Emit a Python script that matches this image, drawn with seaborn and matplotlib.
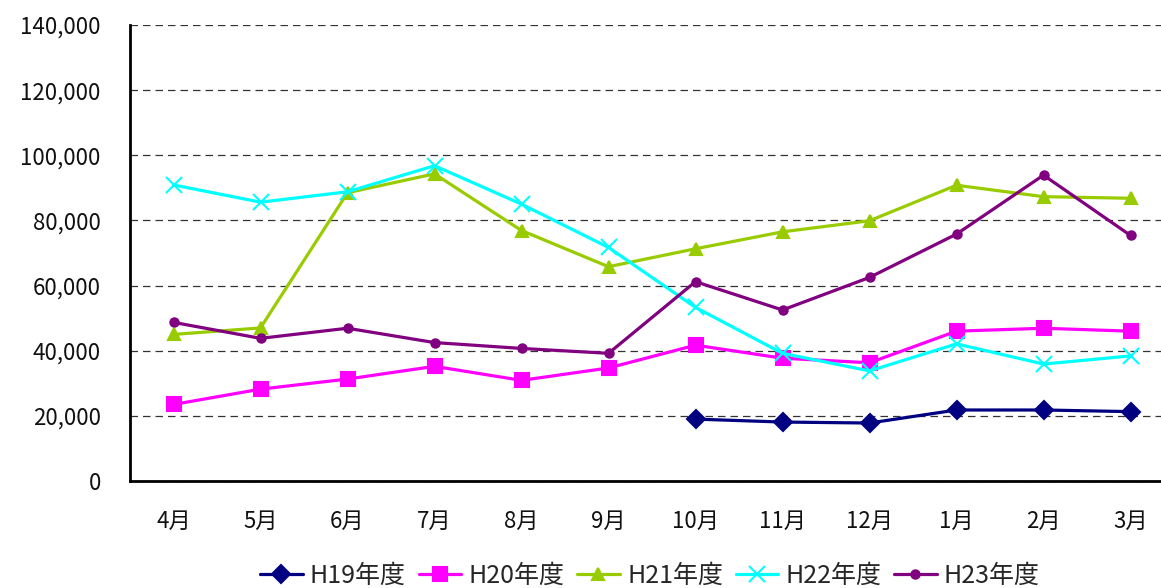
import matplotlib
matplotlib.use("Agg")
import matplotlib.pyplot as plt
import numpy as np
import pandas as pd
import seaborn as sns

months = ["4月", "5月", "6月", "7月", "8月", "9月",
          "10月", "11月", "12月", "1月", "2月", "3月"]

h19 = [np.nan, np.nan, np.nan, np.nan, np.nan, np.nan,
       19000, 18100, 17800, 21800, 21800, 21300]
h20 = [23500, 28200, 31300, 35200, 30900, 34700,
       41700, 37700, 36300, 46000, 46900, 46000]
h21 = [45000, 47000, 88500, 94300, 76900, 65800,
       71300, 76500, 79900, 90800, 87300, 86800]
h22 = [90900, 85600, 88800, 96800, 85000, 71700,
       53300, 39200, 33800, 42100, 35900, 38400]
h23 = [48700, 43800, 46900, 42500, 40700, 39200,
       61200, 52500, 62500, 75800, 93900, 75400]

series_names = ["H19年度", "H20年度", "H21年度", "H22年度", "H23年度"]
series_values = [h19, h20, h21, h22, h23]

colors = {"H19年度": "#000080", "H20年度": "#FF00FF", "H21年度": "#99CC00",
          "H22年度": "#00FFFF", "H23年度": "#800080"}
markers = {"H19年度": "D", "H20年度": "s", "H21年度": "^",
           "H22年度": "x", "H23年度": "o"}
msizes = {"H19年度": 9, "H20年度": 10.5, "H21年度": 8,
          "H22年度": 11, "H23年度": 6}

sns.set_style("white")
plt.rcParams["font.family"] = ["Noto Sans CJK JP", "DejaVu Sans"]

fig = plt.figure(figsize=(11.61, 5.88), dpi=100)
ax = fig.add_axes([130 / 1161, 1 - 481 / 588, 1044 / 1161, 456 / 588])

pos = np.arange(len(months))
for name, vals in zip(series_names, series_values):
    df = pd.DataFrame({"pos": pos, "value": vals}).dropna()
    sns.lineplot(data=df, x="pos", y="value", ax=ax, color=colors[name],
                 marker=markers[name], markersize=msizes[name],
                 markeredgecolor=colors[name], markeredgewidth=1.5,
                 linewidth=2.3, label=name, zorder=3)

ax.set_xlim(-0.5, len(months) - 0.5)
ax.set_ylim(0, 140000)
ax.set_yticks(np.arange(0, 140001, 20000))
ax.yaxis.set_major_formatter(matplotlib.ticker.FuncFormatter(lambda v, p: f"{int(v):,}"))
ax.set_xticks(pos)
ax.set_xticklabels(months)
ax.set_xticks(np.arange(0.5, len(months) - 0.5, 1), minor=True)
ax.tick_params(axis="x", which="major", length=0, pad=21, labelsize=16,
               labelcolor="#111111")
ax.tick_params(axis="x", which="minor", direction="in", length=7, width=1, color="black")
ax.tick_params(axis="y", length=0, pad=21, labelsize=16, labelcolor="#111111")
ax.set_xlabel("")
ax.set_ylabel("")

ax.grid(axis="y", linestyle=(0, (6, 4)), color="#333333", linewidth=0.9, zorder=0)
ax.set_axisbelow(True)

for side in ["top", "right"]:
    ax.spines[side].set_visible(False)
for side in ["left", "bottom"]:
    ax.spines[side].set_color("black")
    ax.spines[side].set_linewidth(2)

ax.legend(loc="center", bbox_to_anchor=(650 / 1161, 1 - 576 / 588),
          bbox_transform=fig.transFigure, ncol=5, frameon=False,
          fontsize=18, handlelength=1.7, handletextpad=0.3,
          columnspacing=0.5, borderaxespad=0)

fig.savefig("out.png", dpi=100)
